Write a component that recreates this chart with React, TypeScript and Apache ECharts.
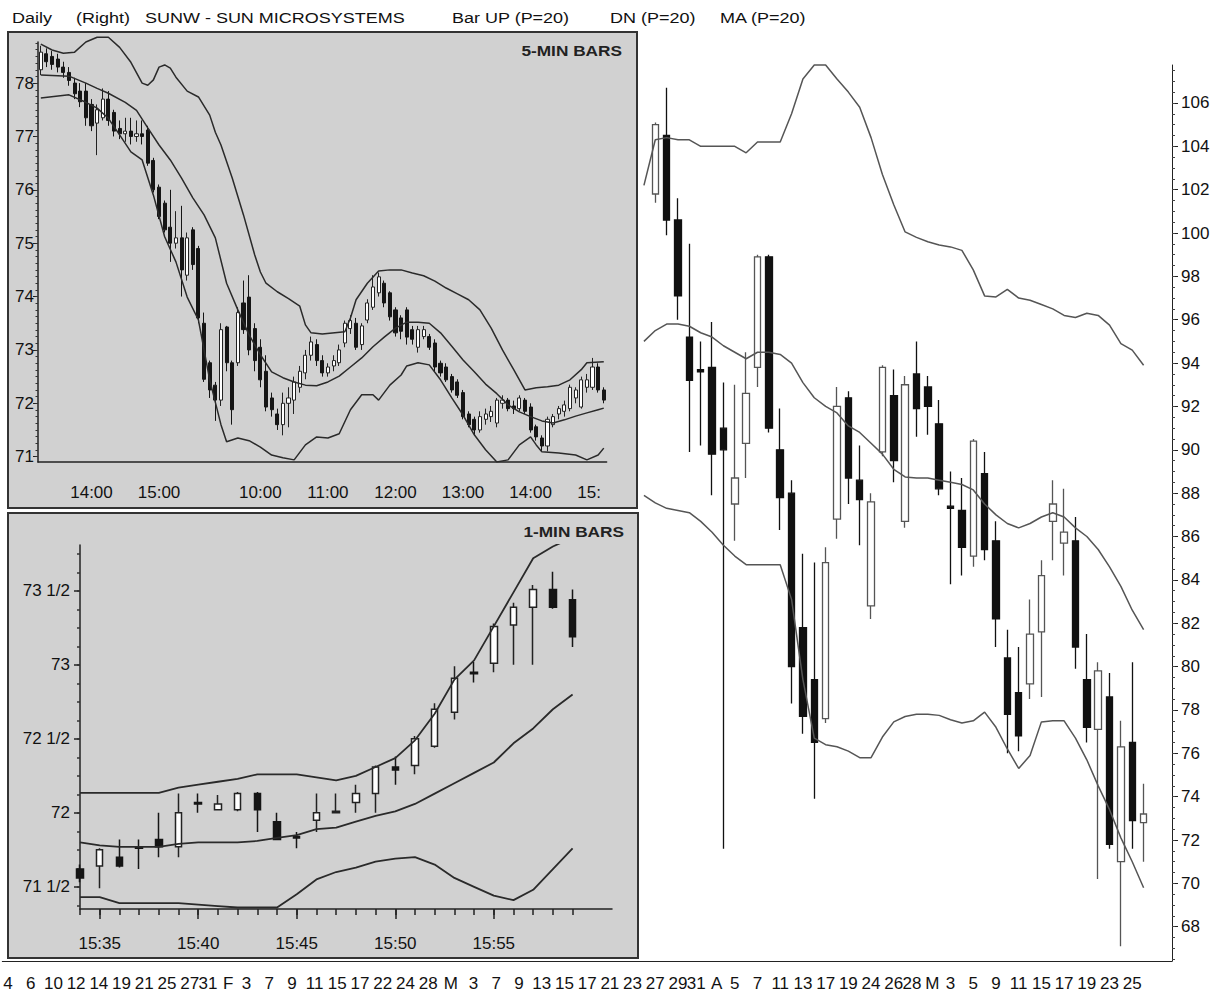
import React, { useEffect, useRef } from "react";
import * as echarts from "echarts";

const FONT = "'Liberation Sans', Arial, Helvetica, sans-serif";

// ---------- Daily (trading days, year 2000) ----------
const janDays = [4, 5, 6, 7, 10, 11, 12, 13, 14, 18, 19, 20, 21, 24, 25, 26, 27, 28, 31];
const febDays = [1, 2, 3, 4, 7, 8, 9, 10, 11, 14, 15, 16, 17, 18, 22, 23, 24, 25, 28, 29];
const marDays = [1, 2, 3, 6, 7, 8, 9, 10, 13, 14, 15, 16, 17, 20, 21, 22, 23, 24, 27, 28, 29, 30, 31];
const aprDays = [3, 4, 5, 6, 7, 10, 11, 12, 13, 14, 17, 18, 19, 20, 24, 25, 26, 27, 28];
const mayDays = [1, 2, 3, 4, 5, 8, 9, 10, 11, 12, 15, 16, 17, 18, 19, 22, 23, 24, 25, 26];
const monthLetters = ["", "F", "M", "A", "M"];
const dailyPadSlots = ["pad1", "pad2"];

const dailyStart = 57; // index of first visible candle (Mar 27)
const dailyOpen = [101.8, 104.5, 100.6, 95.2, 93.7, 93.8, 91.0, 87.5, 90.3, 93.8, 98.9, 90.0, 88.0, 81.8, 79.4, 77.6, 86.8, 92.4, 88.6, 82.8, 89.9, 92.5, 86.7, 93.5, 92.9, 91.2, 87.4, 87.2, 85.1, 88.9, 85.8, 80.4, 78.8, 79.2, 81.6, 86.7, 85.7, 85.8, 79.4, 77.1, 78.6, 71.0, 76.5, 72.8];
const dailyClose = [105.0, 100.6, 97.1, 93.2, 93.6, 89.8, 90.0, 88.7, 92.6, 98.9, 91.0, 87.8, 80.0, 77.7, 76.5, 84.8, 92.0, 88.7, 87.7, 87.6, 93.8, 89.5, 93.0, 91.9, 92.0, 88.2, 87.3, 85.5, 90.4, 85.4, 82.2, 77.8, 76.8, 81.5, 84.2, 87.5, 86.2, 80.9, 77.2, 79.8, 71.8, 76.3, 72.9, 73.2];
const dailyLow = [101.4, 99.9, 96.0, 89.9, 90.2, 87.9, 71.6, 85.8, 88.7, 92.9, 90.8, 86.3, 78.3, 76.9, 73.9, 77.4, 85.9, 87.5, 85.6, 82.2, 89.7, 88.5, 86.4, 90.6, 90.7, 87.9, 83.8, 84.2, 84.6, 84.9, 80.9, 76.0, 76.1, 78.5, 78.6, 84.9, 84.2, 79.9, 76.5, 70.2, 71.6, 67.1, 71.6, 71.0];
const dailyHigh = [105.1, 106.7, 101.6, 99.5, 95.0, 95.9, 93.1, 93.0, 94.5, 99.0, 99.0, 91.9, 88.6, 85.2, 84.8, 85.5, 92.9, 92.7, 90.2, 88.0, 93.9, 93.7, 93.4, 95.0, 93.4, 92.3, 89.0, 88.7, 90.5, 89.9, 86.7, 81.7, 80.9, 83.1, 84.9, 88.6, 88.2, 86.9, 81.5, 80.2, 79.7, 77.5, 80.2, 74.6];

const dailyBandStart = 56;
const dailyUpper = [102.2, 104.3, 104.4, 104.3, 104.3, 104.0, 104.0, 104.0, 104.0, 103.7, 104.2, 104.2, 104.2, 105.5, 107.1, 107.75, 107.75, 107.1, 106.5, 105.8, 104.4, 102.7, 101.3, 100.05, 99.8, 99.6, 99.45, 99.36, 99.2, 98.3, 97.1, 97.05, 97.4, 97.0, 96.9, 96.7, 96.5, 96.2, 96.1, 96.3, 96.2, 95.75, 94.9, 94.6, 93.9];
const dailyMiddle = [95.0, 95.5, 95.8, 95.8, 95.7, 95.4, 95.2, 94.8, 94.5, 94.2, 94.5, 94.5, 94.4, 94.0, 93.1, 92.4, 92.0, 91.7, 91.1, 90.8, 90.3, 89.8, 89.1, 88.75, 88.7, 88.7, 88.6, 88.5, 88.4, 88.15, 87.5, 87.0, 86.6, 86.4, 86.6, 86.9, 87.1, 86.9, 86.4, 86.0, 85.4, 84.6, 83.7, 82.6, 81.7];
const dailyLower = [87.9, 87.55, 87.3, 87.2, 87.1, 86.7, 86.2, 85.6, 85.1, 84.7, 84.7, 84.7, 84.7, 83.1, 79.4, 76.7, 76.4, 76.3, 76.1, 75.8, 75.8, 76.75, 77.45, 77.7, 77.8, 77.8, 77.75, 77.55, 77.4, 77.5, 77.9, 77.2, 76.2, 75.3, 75.9, 77.45, 77.5, 77.5, 76.7, 75.7, 74.5, 73.4, 72.1, 71.0, 69.8];
const dailyYLabels = [68, 70, 72, 74, 76, 78, 80, 82, 84, 86, 88, 90, 92, 94, 96, 98, 100, 102, 104, 106];

// ---------- 5-minute bars ----------
const fiveSessions = [
  { day: "d1", from: "13:15", to: "15:55" },
  { day: "d2", from: "9:30", to: "15:05" },
];
const fiveOpen = [78.25, 78.55, 78.5, 78.45, 78.3, 78.2, 78.0, 77.85, 77.85, 77.6, 77.25, 77.35, 77.7, 77.45, 77.15, 77.05, 77.1, 77.0, 77.05, 77.12, 76.55, 76.05, 75.75, 75.3, 75.0, 75.1, 74.4, 75.25, 74.9, 73.5, 72.76, 72.34, 72.06, 73.43, 72.76, 72.76, 73.88, 73.99, 73.4, 73.05, 72.6, 72.1, 71.8, 71.6, 72.0, 72.06, 72.3, 72.57, 72.9, 73.1, 72.8, 72.57, 72.7, 72.76, 73.13, 73.4, 73.5, 73.1, 73.56, 73.8, 74.07, 74.25, 74.07, 73.75, 73.6, 73.75, 73.38, 73.05, 73.25, 73.25, 73.13, 72.75, 72.68, 72.5, 72.4, 72.2, 71.8, 71.7, 71.5, 71.7, 71.75, 71.63, 72.0, 72.06, 71.95, 71.9, 72.06, 71.93, 71.56, 71.35, 71.2, 71.6, 71.8, 71.85, 71.9, 72.1, 71.93, 72.3, 72.3, 72.68, 72.25];
const fiveClose = [78.58, 78.4, 78.35, 78.3, 78.2, 78.05, 77.8, 77.65, 77.35, 77.2, 77.5, 77.7, 77.3, 77.1, 77.05, 77.1, 77.0, 77.05, 77.0, 76.5, 76.0, 75.5, 75.25, 75.0, 75.1, 74.5, 75.1, 74.6, 73.6, 72.45, 72.25, 72.06, 73.38, 72.76, 71.88, 73.7, 73.38, 73.0, 72.8, 72.44, 71.93, 71.88, 71.6, 72.0, 72.1, 72.4, 72.6, 72.9, 73.15, 72.8, 72.57, 72.68, 72.8, 73.0, 73.5, 73.55, 73.05, 73.45, 73.88, 74.18, 74.37, 73.88, 73.62, 73.32, 73.35, 73.24, 73.2, 73.38, 73.38, 73.05, 72.68, 72.57, 72.44, 72.25, 72.15, 71.75, 71.6, 71.5, 71.75, 71.8, 71.85, 72.06, 72.06, 71.9, 71.9, 72.1, 71.85, 71.5, 71.37, 71.2, 71.7, 71.75, 71.9, 71.97, 72.3, 72.25, 72.44, 72.44, 72.68, 72.25, 72.06];
const fiveLow = [78.15, 78.3, 78.25, 78.2, 78.1, 77.95, 77.7, 77.55, 77.2, 77.1, 76.65, 77.3, 77.2, 77.0, 76.95, 76.9, 76.85, 76.9, 76.85, 76.45, 75.95, 75.45, 75.2, 74.65, 74.9, 74.0, 74.3, 74.5, 73.5, 72.4, 72.1, 71.67, 71.95, 72.6, 71.6, 72.7, 73.3, 72.9, 72.6, 72.3, 71.85, 71.75, 71.5, 71.4, 71.55, 71.8, 72.2, 72.45, 72.8, 72.7, 72.5, 72.5, 72.6, 72.7, 73.05, 73.3, 73.0, 73.0, 73.5, 73.75, 74.0, 73.8, 73.55, 73.25, 73.2, 73.1, 73.1, 72.95, 73.2, 73.0, 72.6, 72.5, 72.4, 72.2, 72.1, 71.7, 71.55, 71.4, 71.45, 71.6, 71.65, 71.55, 71.9, 71.85, 71.8, 71.85, 71.8, 71.45, 71.3, 71.1, 71.1, 71.55, 71.7, 71.75, 71.85, 72.0, 71.9, 72.2, 72.25, 72.2, 72.0];
const fiveHigh = [78.7, 78.65, 78.6, 78.55, 78.4, 78.3, 78.1, 78.0, 78.0, 77.7, 77.6, 77.9, 77.85, 77.5, 77.3, 77.35, 77.35, 77.3, 77.3, 77.2, 76.6, 76.1, 75.8, 76.0, 75.6, 75.7, 75.2, 75.3, 74.95, 73.7, 72.8, 72.4, 73.5, 73.45, 72.8, 73.8, 74.3, 74.4, 73.5, 73.2, 72.9, 72.2, 71.9, 72.2, 72.3, 72.5, 72.7, 73.0, 73.25, 73.2, 72.9, 72.75, 72.9, 73.1, 73.55, 73.65, 73.6, 73.5, 73.95, 74.4, 74.45, 74.3, 74.1, 73.8, 73.65, 73.8, 73.45, 73.45, 73.45, 73.3, 73.2, 72.8, 72.75, 72.55, 72.45, 72.25, 71.85, 71.75, 71.85, 71.9, 71.95, 72.1, 72.15, 72.1, 72.05, 72.15, 72.1, 72.0, 71.6, 71.4, 71.75, 71.8, 71.95, 72.05, 72.35, 72.3, 72.5, 72.55, 72.85, 72.75, 72.3];
const fiveUpper = [[0, 78.73], [2, 78.62], [4, 78.56], [6, 78.58], [8, 78.77], [10, 78.86], [12, 78.86], [14, 78.67], [16, 78.39], [18, 78.0], [19, 77.96], [20, 78.06], [21, 78.3], [22, 78.34], [23, 78.28], [24, 78.11], [26, 77.85], [28, 77.74], [30, 77.4], [31, 77.08], [32, 76.84], [34, 76.22], [36, 75.53], [38, 74.78], [39, 74.46], [40, 74.25], [42, 74.09], [44, 73.96], [46, 73.82], [47, 73.47], [48, 73.32], [50, 73.3], [54, 73.34], [55, 73.6], [56, 73.94], [58, 74.25], [60, 74.48], [62, 74.5], [64, 74.5], [66, 74.44], [68, 74.39], [70, 74.29], [72, 74.16], [74, 74.05], [76, 73.94], [78, 73.75], [80, 73.41], [82, 73.0], [84, 72.63], [86, 72.25], [88, 72.29], [90, 72.31], [92, 72.34], [94, 72.44], [96, 72.63], [97, 72.76], [100, 72.78]];
const fiveMiddle = [[0, 78.15], [5, 78.13], [8, 78.0], [10, 77.9], [12, 77.81], [15, 77.64], [17, 77.49], [19, 77.16], [21, 76.84], [23, 76.56], [25, 76.22], [27, 75.85], [29, 75.53], [31, 75.1], [33, 74.25], [35, 73.75], [37, 73.28], [39, 72.91], [41, 72.59], [43, 72.48], [45, 72.4], [47, 72.34], [49, 72.33], [51, 72.4], [53, 72.51], [55, 72.68], [57, 72.85], [59, 73.06], [61, 73.24], [63, 73.41], [65, 73.52], [67, 73.52], [69, 73.5], [71, 73.32], [73, 73.07], [75, 72.81], [77, 72.59], [79, 72.36], [81, 72.18], [83, 71.97], [85, 71.84], [87, 71.75], [89, 71.67], [91, 71.63], [93, 71.69], [95, 71.76], [97, 71.82], [99, 71.88], [100, 71.91]];
const fiveLower = [[0, 77.72], [5, 77.78], [8, 77.64], [10, 77.53], [12, 77.34], [14, 77.03], [16, 76.71], [18, 76.56], [20, 75.9], [22, 75.12], [24, 74.65], [26, 73.99], [28, 73.56], [30, 72.44], [32, 71.6], [33, 71.28], [35, 71.35], [37, 71.3], [39, 71.18], [41, 71.03], [43, 70.98], [45, 70.94], [47, 71.22], [49, 71.37], [51, 71.35], [53, 71.43], [55, 71.88], [57, 72.16], [59, 72.16], [60, 72.06], [62, 72.34], [64, 72.53], [65, 72.7], [67, 72.76], [69, 72.72], [71, 72.44], [73, 72.1], [75, 71.78], [77, 71.41], [79, 71.13], [81, 70.9], [83, 70.94], [85, 71.22], [87, 71.37], [88, 71.22], [89, 71.09], [92, 71.07], [95, 71.03], [97, 70.94], [99, 71.03], [100, 71.16]];
const fiveYLabels = [71, 72, 73, 74, 75, 76, 77, 78];

// ---------- 1-minute bars ----------
const oneFrom = "15:34";
const oneTo = "16:01";
const oneLabelTimes = ["15:35", "15:40", "15:45", "15:50", "15:55"];
const oneLastTick = "15:59";
const oneOpen = [71.62, 71.64, 71.7, 71.77, 71.82, 71.77, 72.07, 72.02, 72.02, 72.13, 71.94, 71.84, 71.95, 72.0, 72.07, 72.13, 72.31, 72.32, 72.45, 72.68, 72.95, 73.01, 73.27, 73.39, 73.51, 73.44];
const oneClose = [71.56, 71.75, 71.64, 71.76, 71.77, 72.0, 72.06, 72.06, 72.13, 72.02, 71.82, 71.83, 72.0, 72.01, 72.13, 72.31, 72.29, 72.5, 72.7, 72.91, 72.94, 73.26, 73.39, 73.51, 73.39, 73.19];
const oneLow = [71.53, 71.49, 71.63, 71.62, 71.7, 71.7, 72.0, 72.02, 72.01, 71.87, 71.82, 71.76, 71.87, 72.0, 72.0, 72.0, 72.19, 72.26, 72.44, 72.63, 72.88, 72.95, 73.0, 73.0, 73.38, 73.12];
const oneHigh = [71.65, 71.76, 71.82, 71.82, 72.0, 72.13, 72.13, 72.12, 72.14, 72.14, 72.0, 71.87, 72.13, 72.13, 72.19, 72.32, 72.38, 72.52, 72.74, 72.99, 73.02, 73.28, 73.42, 73.54, 73.63, 73.51];
const oneUpper = [72.135, 72.135, 72.135, 72.135, 72.135, 72.17, 72.19, 72.21, 72.23, 72.26, 72.26, 72.26, 72.24, 72.22, 72.25, 72.31, 72.37, 72.49, 72.67, 72.9, 73.03, 73.26, 73.49, 73.72, 73.8, 73.86];
const oneMiddle = [71.8, 71.78, 71.77, 71.77, 71.77, 71.79, 71.8, 71.8, 71.8, 71.81, 71.83, 71.85, 71.89, 71.9, 71.94, 71.98, 72.01, 72.06, 72.13, 72.2, 72.27, 72.34, 72.47, 72.57, 72.7, 72.8];
const oneLower = [71.43, 71.43, 71.39, 71.39, 71.39, 71.39, 71.38, 71.37, 71.36, 71.36, 71.36, 71.45, 71.55, 71.6, 71.63, 71.67, 71.69, 71.7, 71.65, 71.56, 71.5, 71.44, 71.41, 71.48, 71.62, 71.76];
const oneYLabels = [71.5, 72, 72.5, 73, 73.5];

// ---------- helpers ----------
const toMin = (t: string) => {
  const [h, m] = t.split(":").map(Number);
  return h * 60 + m;
};
const fmt = (m: number) => `${Math.floor(m / 60)}:${String(m % 60).padStart(2, "0")}`;

function buildDaily() {
  const months = [janDays, febDays, marDays, aprDays, mayDays];
  const cats: string[] = [];
  const labels: string[] = [];
  const monthStarts: number[] = [];
  months.forEach((days, m) => {
    days.forEach((d, k) => {
      if (k === 0 && m > 0) monthStarts.push(cats.length);
      cats.push(`${m + 1}-${d}`);
      labels.push(k % 2 === 0 ? (k === 0 && monthLetters[m] ? monthLetters[m] : String(d)) : "");
    });
  });
  dailyPadSlots.forEach((p) => {
    cats.push(p);
    labels.push("");
  });
  return { cats, labels, monthStarts };
}

function buildFive() {
  const cats: string[] = [];
  const labels: string[] = [];
  fiveSessions.forEach((s) => {
    for (let t = toMin(s.from); t <= toMin(s.to); t += 5) {
      cats.push(`${s.day} ${fmt(t)}`);
      labels.push(t % 60 === 0 ? fmt(t) : "");
    }
  });
  return { cats, labels };
}

function buildOne() {
  const cats: string[] = [];
  for (let t = toMin(oneFrom); t <= toMin(oneTo); t++) cats.push(fmt(t));
  return cats;
}

function steps(from: number, to: number, step: number) {
  const out: number[] = [];
  for (let v = from; v <= to + 1e-9; v += step) out.push(Math.round(v * 1000) / 1000);
  return out;
}

const candleStyle = (up: string, down: string, upBorder: string, downBorder: string, bw: number) => ({
  color: up,
  color0: down,
  borderColor: upBorder,
  borderColor0: downBorder,
  borderWidth: bw,
});

export default function App() {
  const ref = useRef<HTMLDivElement>(null);

  useEffect(() => {
    if (!ref.current) return;
    const chart = echarts.init(ref.current, undefined, { renderer: "svg" });

    const daily = buildDaily();
    const five = buildFive();
    const oneCats = buildOne();
    const fiveLastHour = five.labels.reduce((acc, l, i) => (l ? i : acc), -1);
    const fiveHourIdx = five.labels.map((l, i) => (l ? i : -1)).filter((i) => i >= 0);
    const oneLabelIdx = oneLabelTimes.map((t) => oneCats.indexOf(t));
    const oneLastTickIdx = oneCats.indexOf(oneLastTick);

    const dailyCandles = dailyOpen.map((o, k) => [dailyStart + k, o, dailyClose[k], dailyLow[k], dailyHigh[k]]);
    const fiveCandles = fiveOpen.map((o, k) => [k, o, fiveClose[k], fiveLow[k], fiveHigh[k]]);
    const oneCandles = oneOpen.map((o, k) => [k, o, oneClose[k], oneLow[k], oneHigh[k]]);
    const bandPairs = (arr: number[], start: number) => arr.map((v, k) => [start + k, v]);

    const axisColor = "#222";
    const labelBase = { fontFamily: FONT, color: "#111", fontSize: 17 };
    const noSplit = { show: false };

    const ohlcDims = ["x", "open", "close", "lowest", "highest"];
    const ohlcEncode = { x: "x", y: ["open", "close", "lowest", "highest"] };

    const line = (data: any[], xi: number, yi: number, color: string, width: number, clip = true) => ({
      type: "line",
      xAxisIndex: xi,
      yAxisIndex: yi,
      data,
      symbol: "none",
      smooth: false,
      clip,
      z: 3,
      lineStyle: { color, width },
      silent: true,
    });

    const dailyLabelFmt = (_v: string, i: number) => {
      const t = daily.labels[i];
      if (!t) return "";
      if (daily.labels[i + 1]) return `{l|${t}}`;
      if (i > 0 && daily.labels[i - 1]) return `{r|${t}}`;
      return t;
    };

    const option: any = {
      animation: false,
      backgroundColor: "#ffffff",
      grid: [
        { left: 2.3, right: 53, top: 65, bottom: 41 },
        { left: 38, top: 42, width: 568.6, height: 420 },
        { left: 80, top: 545, width: 532, height: 364 },
      ],
      xAxis: [
        {
          type: "category",
          gridIndex: 0,
          data: daily.cats,
          boundaryGap: true,
          position: "bottom",
          axisLine: { lineStyle: { color: axisColor, width: 1 } },
          axisTick: { alignWithLabel: true, interval: 0, length: 4, lineStyle: { color: axisColor } },
          axisLabel: {
            ...labelBase,
            interval: 0,
            margin: 14,
            formatter: dailyLabelFmt,
            rich: {
              l: { ...labelBase, padding: [0, 9, 0, 0] },
              r: { ...labelBase, padding: [0, 0, 0, 9] },
            },
          },
          splitLine: noSplit,
        },
        {
          type: "category",
          gridIndex: 0,
          data: daily.cats,
          boundaryGap: true,
          position: "bottom",
          offset: 0,
          axisLine: { show: false },
          axisLabel: { show: false },
          splitLine: noSplit,
          axisTick: {
            alignWithLabel: true,
            interval: (i: number) => daily.monthStarts.includes(i),
            length: 9,
            lineStyle: { color: axisColor },
          },
        },
        {
          type: "category",
          gridIndex: 1,
          data: five.cats,
          boundaryGap: true,
          position: "bottom",
          axisLine: { lineStyle: { color: axisColor, width: 1.5 } },
          axisTick: { alignWithLabel: true, interval: 0, length: 4, lineStyle: { color: axisColor } },
          axisLabel: {
            ...labelBase,
            interval: 0,
            margin: 22,
            formatter: (_v: string, i: number) => {
              if (i === fiveLastHour) return "{clip|" + five.labels[i].slice(0, 3) + "}";
              return five.labels[i] || "";
            },
            rich: { clip: { fontFamily: FONT, fontSize: 17, color: "#111", padding: [0, 18, 0, 0] } },
          },
          splitLine: noSplit,
        },
        {
          type: "category",
          gridIndex: 1,
          data: five.cats,
          boundaryGap: true,
          position: "bottom",
          offset: 0,
          axisLine: { show: false },
          axisLabel: { show: false },
          splitLine: noSplit,
          axisTick: {
            alignWithLabel: true,
            interval: (i: number) => fiveHourIdx.includes(i),
            length: 9,
            lineStyle: { color: axisColor },
          },
        },
        {
          type: "category",
          gridIndex: 2,
          data: oneCats,
          boundaryGap: false,
          position: "bottom",
          axisLine: { lineStyle: { color: axisColor, width: 1.5 } },
          axisTick: { interval: (i: number) => i <= oneLastTickIdx, length: 6, lineStyle: { color: axisColor, width: 1.5 } },
          axisLabel: {
            ...labelBase,
            interval: 0,
            margin: 26,
            formatter: (v: string, i: number) => (oneLabelIdx.includes(i) ? v : ""),
          },
          splitLine: noSplit,
        },
        {
          type: "category",
          gridIndex: 2,
          data: oneCats,
          boundaryGap: false,
          position: "bottom",
          offset: 0,
          axisLine: { show: false },
          axisLabel: { show: false },
          splitLine: noSplit,
          axisTick: { interval: (i: number) => oneLabelIdx.includes(i), length: 10, lineStyle: { color: axisColor, width: 1.5 } },
        },
      ],
      yAxis: [
        {
          type: "value",
          gridIndex: 0,
          position: "right",
          min: 66.42,
          max: 107.75,
          axisLine: { show: true, lineStyle: { color: axisColor, width: 1 } },
          axisTick: { show: true, customValues: dailyYLabels, length: 6, lineStyle: { color: axisColor } },
          axisLabel: { ...labelBase, customValues: dailyYLabels, margin: 9 },
          splitLine: noSplit,
        },
        {
          type: "value",
          gridIndex: 0,
          position: "right",
          offset: 0,
          min: 66.42,
          max: 107.75,
          axisLine: { show: false },
          axisLabel: { show: false },
          axisTick: { show: true, customValues: steps(66.5, 107.5, 0.5), length: 3, lineStyle: { color: "#444" } },
          splitLine: noSplit,
        },
        {
          type: "value",
          gridIndex: 1,
          position: "left",
          min: 70.9,
          max: 78.77,
          axisLine: { show: true, lineStyle: { color: axisColor, width: 1.5 } },
          axisTick: { show: true, customValues: fiveYLabels, length: 5, lineStyle: { color: axisColor } },
          axisLabel: { ...labelBase, customValues: fiveYLabels, margin: 4 },
          splitLine: noSplit,
        },
        {
          type: "value",
          gridIndex: 1,
          position: "left",
          offset: 0,
          min: 70.9,
          max: 78.77,
          axisLine: { show: false },
          axisLabel: { show: false },
          axisTick: { show: true, customValues: steps(71, 78.75, 0.125), length: 2.5, lineStyle: { color: "#333" } },
          splitLine: noSplit,
        },
        {
          type: "value",
          gridIndex: 2,
          position: "left",
          min: 71.35,
          max: 73.81,
          axisLine: { show: true, lineStyle: { color: axisColor, width: 1.5 } },
          axisTick: { show: true, customValues: oneYLabels, length: 6, lineStyle: { color: axisColor, width: 1.5 } },
          axisLabel: {
            ...labelBase,
            customValues: oneYLabels,
            margin: 10,
            formatter: (v: number) => (Math.abs((v % 1) - 0.5) < 1e-6 ? `${Math.floor(v)} 1/2` : `${v}`),
          },
          splitLine: noSplit,
        },
        {
          type: "value",
          gridIndex: 2,
          position: "left",
          offset: 0,
          min: 71.35,
          max: 73.81,
          axisLine: { show: false },
          axisLabel: { show: false },
          axisTick: { show: true, customValues: steps(71.375, 73.75, 0.125), length: 3, lineStyle: { color: "#333", width: 1.5 } },
          splitLine: noSplit,
        },
      ],
      series: [
        {
          type: "candlestick",
          xAxisIndex: 0,
          yAxisIndex: 0,
          dimensions: ohlcDims,
          encode: ohlcEncode,
          data: dailyCandles,
          barWidth: 7,
          itemStyle: candleStyle("#ffffff", "#111111", "#555555", "#111111", 1.3),
          silent: true,
        },
        line(bandPairs(dailyUpper, dailyBandStart), 0, 0, "#555", 1.5, false),
        line(bandPairs(dailyMiddle, dailyBandStart), 0, 0, "#555", 1.5),
        line(bandPairs(dailyLower, dailyBandStart), 0, 0, "#555", 1.5),
        {
          type: "candlestick",
          xAxisIndex: 2,
          yAxisIndex: 2,
          dimensions: ohlcDims,
          encode: ohlcEncode,
          data: fiveCandles,
          barWidth: 3.6,
          itemStyle: candleStyle("#ffffff", "#151515", "#222222", "#151515", 1),
          silent: true,
        },
        line(fiveUpper, 2, 2, "#2a2a2a", 1.5, false),
        line(fiveMiddle, 2, 2, "#2a2a2a", 1.5),
        line(fiveLower, 2, 2, "#2a2a2a", 1.5),
        {
          type: "candlestick",
          xAxisIndex: 4,
          yAxisIndex: 4,
          dimensions: ohlcDims,
          encode: ohlcEncode,
          data: oneCandles,
          barWidth: 7,
          itemStyle: candleStyle("#ffffff", "#151515", "#222222", "#151515", 1.5),
          silent: true,
        },
        line(bandPairs(oneUpper, 0), 4, 4, "#2a2a2a", 1.8),
        line(bandPairs(oneMiddle, 0), 4, 4, "#2a2a2a", 1.8),
        line(bandPairs(oneLower, 0), 4, 4, "#2a2a2a", 1.8),
      ],
      graphic: [
        {
          type: "rect",
          z: -10,
          silent: true,
          shape: { x: 8, y: 32, width: 629, height: 476 },
          style: { fill: "#d1d1d1", stroke: "#333", lineWidth: 2 },
        },
        {
          type: "rect",
          z: -10,
          silent: true,
          shape: { x: 8, y: 513, width: 630, height: 445 },
          style: { fill: "#d1d1d1", stroke: "#333", lineWidth: 2 },
        },
        ...[
          ["Daily", 12],
          ["(Right)", 76],
          ["SUNW - SUN MICROSYSTEMS", 145],
          ["Bar", 452],
          ["UP (P=20)", 485],
          ["DN (P=20)", 610],
          ["MA (P=20)", 720],
        ].map(([t, x]) => ({
          type: "text",
          x: x as number,
          y: 18,
          scaleX: 1.2,
          silent: true,
          style: {
            text: t as string,
            fontFamily: FONT,
            fontSize: 15,
            fill: "#111",
            align: "left",
            verticalAlign: "middle",
            textAlign: "left",
            textVerticalAlign: "middle",
          },
        })),
        ...[
          ["5-MIN BARS", 622, 50],
          ["1-MIN BARS", 624, 531],
        ].map(([t, x, y]) => ({
          type: "text",
          x: x as number,
          y: y as number,
          scaleX: 1.15,
          silent: true,
          style: {
            text: t as string,
            fontFamily: FONT,
            fontSize: 15,
            fontWeight: "bold",
            fill: "#222",
            align: "right",
            verticalAlign: "middle",
            textAlign: "right",
            textVerticalAlign: "middle",
          },
        })),
      ],
    };

    chart.setOption(option);
    return () => chart.dispose();
  }, []);

  return (
    <div
      ref={ref}
      style={{ position: "absolute", left: 0, top: 0, width: 1225, height: 1002, background: "#fff" }}
    />
  );
}
